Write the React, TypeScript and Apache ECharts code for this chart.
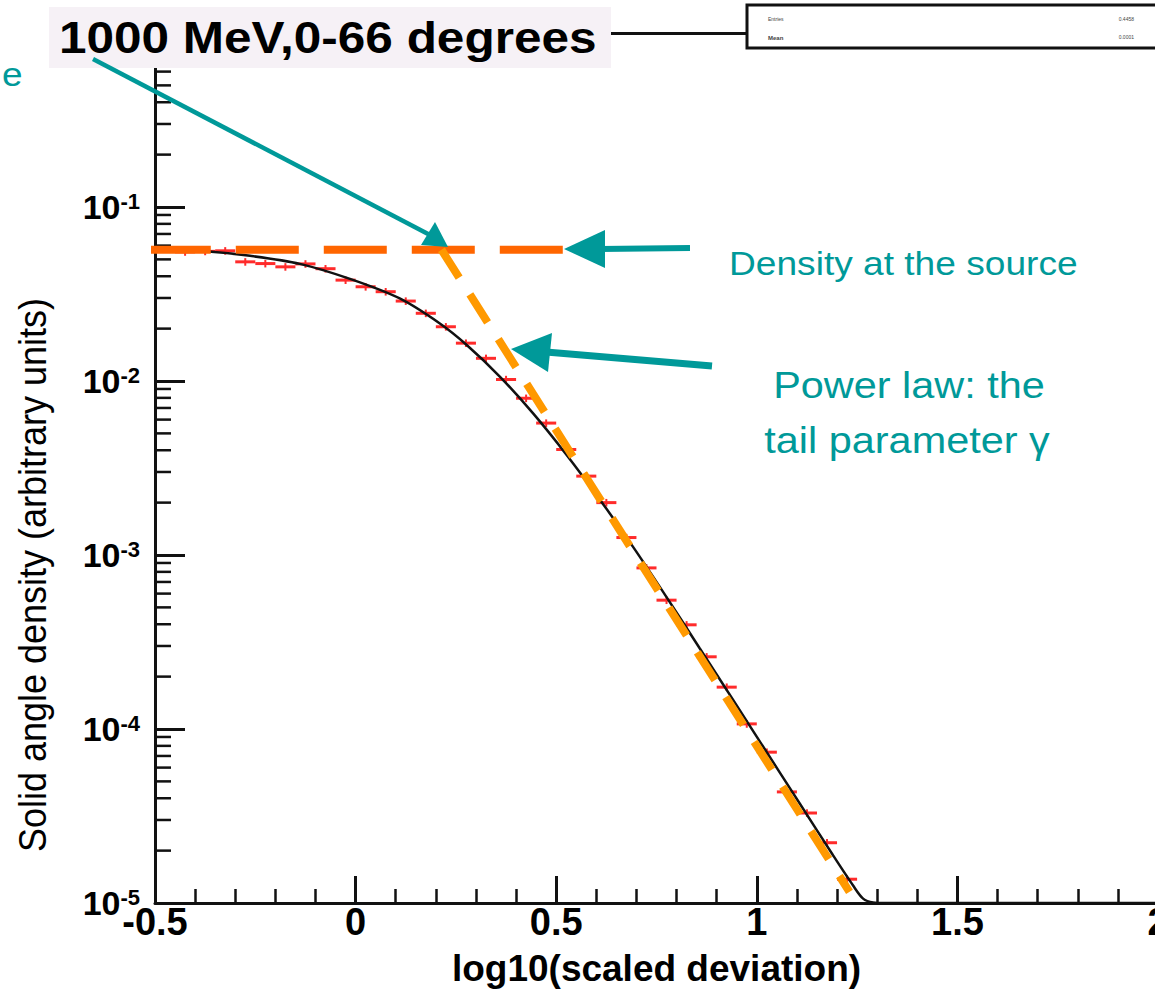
import React, { useEffect, useRef } from 'react';
import * as echarts from 'echarts';

const FONT = '"Liberation Sans", Arial, Helvetica, sans-serif';

// Binned data (log10 scaled deviation bin centres, solid-angle density)
const binCenters = [-0.425, -0.375, -0.325, -0.275, -0.225, -0.175, -0.125, -0.075, -0.025, 0.025, 0.075, 0.125, 0.175, 0.225, 0.275, 0.325, 0.375, 0.425, 0.475, 0.525, 0.575, 0.625, 0.675, 0.725, 0.775, 0.825, 0.875, 0.925, 0.975, 1.025, 1.075, 1.125, 1.175, 1.225];
const densityValues = [0.0552, 0.0556, 0.056, 0.0484, 0.0473, 0.0453, 0.0471, 0.0442, 0.038, 0.0348, 0.0326, 0.0288, 0.0245, 0.0205, 0.0165, 0.0135, 0.0102, 0.00796, 0.00573, 0.00404, 0.00284, 0.002, 0.00126, 0.000843, 0.00055, 0.000397, 0.00026, 0.000174, 0.000107, 0.0000736, 0.0000435, 0.0000329, 0.0000222, 0.0000137];
const binHalfWidth = 0.025;
const densityRelErr = 0.05;

// Fitted curve
const fitX = [-0.45, -0.36, -0.263, -0.139, -0.014, 0.11, 0.21, 0.277, 0.36, 0.443, 0.526, 0.609, 0.692, 0.775, 0.858, 0.941, 1.024, 1.107, 1.19, 1.24, 1.265, 1.29, 1.32, 2.0];
const fitY = [0.0564, 0.0553, 0.0524, 0.0471, 0.0386, 0.0298, 0.0214, 0.0161, 0.01057, 0.00649, 0.00376, 0.00208, 0.00111, 0.000573, 0.00029, 0.000147, 0.000074, 0.0000373, 0.0000188, 0.0000126, 0.0000106, 0.00001007, 0.00001, 0.00001];

// Annotation guide lines
const sourceX = [-0.518, 0.522];
const sourceY = [0.0568, 0.0568];
const powerLawX = [0.214, 1.231];
const powerLawY = [0.0568, 0.0000116];

// Axes
const xTickLabels = ['-0.5', '0', '0.5', '1', '1.5', '2'];
const yDecades = [1e-5, 1e-4, 1e-3, 1e-2, 1e-1];
const yMinorMultipliers = [2, 3, 4, 5, 6, 7, 8, 9];

const TEAL = '#009999';

export default function App() {
  const ref = useRef<HTMLDivElement>(null);

  useEffect(() => {
    if (!ref.current) return;
    const chart = echarts.init(ref.current, null, { renderer: 'svg' });

    const points = binCenters.map((x, i) => [x, densityValues[i]]);
    const fit = fitX.map((x, i) => [x, fitY[i]]);
    const minorTicks: number[][] = [];
    yDecades.forEach((d) => yMinorMultipliers.forEach((m) => minorTicks.push([-0.5, d * m])));

    const txt = (o: any) => ({ fontFamily: FONT, ...o });

    const option: any = {
      animation: false,
      backgroundColor: '#ffffff',
      textStyle: { fontFamily: FONT },
      grid: { left: 155, top: 33, width: 1003, height: 870, containLabel: false, outerBoundsMode: 'none' },
      xAxis: [
        {
          type: 'value',
          min: -0.5,
          max: 2,
          interval: 0.5,
          position: 'bottom',
          axisLine: { onZero: false, lineStyle: { color: '#111', width: 3 } },
          axisTick: { inside: true, length: 27, lineStyle: { color: '#111', width: 3 } },
          minorTick: { show: true, splitNumber: 5, length: 14, lineStyle: { color: '#111', width: 2.5 } },
          splitLine: { show: false },
          axisLabel: {
            margin: 4,
            fontSize: 38,
            lineHeight: 30,
            fontWeight: 'bold',
            color: '#000',
            fontFamily: FONT,
            formatter: (_v: number, i: number) => xTickLabels[i] ?? '',
          },
          name: 'log10(scaled deviation)',
          nameLocation: 'middle',
          nameGap: 46,
          nameTextStyle: { fontSize: 37, lineHeight: 38, fontWeight: 'bold', color: '#000', fontFamily: FONT },
        },
        {
          type: 'value',
          min: -0.5,
          max: 2,
          position: 'top',
          axisLine: { show: true, onZero: false, lineStyle: { color: '#111', width: 3 } },
          axisTick: { show: false },
          axisLabel: { show: false },
          splitLine: { show: false },
        },
      ],
      yAxis: {
        type: 'log',
        logBase: 10,
        min: 1e-5,
        max: 1,
        splitNumber: 5,
        axisLine: { onZero: false, lineStyle: { color: '#111', width: 3 } },
        axisTick: { inside: true, length: 30, lineStyle: { color: '#111', width: 3 } },
        splitLine: { show: false },
        axisLabel: {
          margin: 15,
          formatter: (v: number) => {
            if (v >= 1) return '';
            const e = Math.round(Math.log10(v));
            return `{b|10}{s|${e}}`;
          },
          rich: {
            b: { fontSize: 34, fontWeight: 'bold', color: '#000', fontFamily: FONT },
            s: { fontSize: 22, fontWeight: 'bold', color: '#000', fontFamily: FONT, verticalAlign: 'top' },
          },
        },
      },
      series: [
        {
          type: 'custom',
          name: 'minorTicks',
          silent: true,
          clip: false,
          z: 1,
          data: minorTicks,
          renderItem: (_p: any, api: any) => {
            const p = api.coord([api.value(0), api.value(1)]);
            return {
              type: 'line',
              shape: { x1: p[0], y1: p[1], x2: p[0] + 16, y2: p[1] },
              style: { stroke: '#111', lineWidth: 2.5 },
            };
          },
        },
        {
          type: 'custom',
          name: 'data',
          silent: true,
          z: 2,
          data: points,
          renderItem: (_p: any, api: any) => {
            const x = api.value(0);
            const y = api.value(1);
            const l = api.coord([x - binHalfWidth, y]);
            const r = api.coord([x + binHalfWidth, y]);
            const t = api.coord([x, y * (1 + densityRelErr)]);
            const b = api.coord([x, y * (1 - densityRelErr)]);
            return {
              type: 'group',
              children: [
                { type: 'line', shape: { x1: l[0], y1: l[1], x2: r[0], y2: r[1] }, style: { stroke: '#ff2b2b', lineWidth: 3 } },
                { type: 'line', shape: { x1: t[0], y1: t[1], x2: b[0], y2: b[1] }, style: { stroke: '#ff2b2b', lineWidth: 2 } },
              ],
            };
          },
        },
        {
          type: 'line',
          name: 'fit',
          data: fit,
          showSymbol: false,
          smooth: 0.3,
          z: 3,
          lineStyle: { color: '#111', width: 2.5 },
        },
        {
          type: 'line',
          name: 'source',
          data: sourceX.map((x, i) => [x, sourceY[i]]),
          showSymbol: false,
          clip: false,
          z: 4,
          lineStyle: { color: '#ff6600', width: 8, type: [63, 25], cap: 'butt' },
        },
        {
          type: 'line',
          name: 'powerlaw',
          data: powerLawX.map((x, i) => [x, powerLawY[i]]),
          showSymbol: false,
          clip: false,
          z: 4,
          lineStyle: { color: '#ff9900', width: 8, type: [33, 20], cap: 'butt' },
        },
      ],
      graphic: [
        { type: 'rect', z: 100, shape: { x: 49, y: 7, width: 562, height: 61 }, style: { fill: '#f6f1f6' } },
        {
          type: 'text', z: 101, x: 59, y: 37, scaleX: 1.1,
          style: txt({ text: '1000 MeV,0-66 degrees', fontSize: 45, fontWeight: 'bold', fill: '#000', align: 'left', verticalAlign: 'middle' }),
        },
        { type: 'rect', z: 100, shape: { x: 747, y: 5, width: 420, height: 43 }, style: { fill: '#fff', stroke: '#111', lineWidth: 3 } },
        { type: 'text', z: 101, x: 768, y: 19, style: txt({ text: 'Entries', fontSize: 5, fill: '#444', verticalAlign: 'middle' }) },
        { type: 'text', z: 101, x: 768, y: 38, style: txt({ text: 'Mean', fontSize: 6, fontWeight: 'bold', fill: '#444', verticalAlign: 'middle' }) },
        { type: 'text', z: 101, x: 1134, y: 19, style: txt({ text: '0.4458', fontSize: 5, fill: '#444', align: 'right', verticalAlign: 'middle' }) },
        { type: 'text', z: 101, x: 1134, y: 37, style: txt({ text: '0.0001', fontSize: 5, fill: '#444', align: 'right', verticalAlign: 'middle' }) },
        {
          type: 'text', z: 101, x: 2, y: 74, scaleX: 1.12,
          style: txt({ text: 'e', fontSize: 33, fill: TEAL, align: 'left', verticalAlign: 'middle' }),
        },
        // arrow 1
        { type: 'line', z: 102, shape: { x1: 93, y1: 59, x2: 430, y2: 235 }, style: { stroke: TEAL, lineWidth: 4.5 } },
        { type: 'polygon', z: 102, shape: { points: [[448, 247], [421, 245], [435, 222]] }, style: { fill: TEAL } },
        // arrow 2
        { type: 'line', z: 102, shape: { x1: 690, y1: 248, x2: 600, y2: 249 }, style: { stroke: TEAL, lineWidth: 6 } },
        { type: 'polygon', z: 102, shape: { points: [[564, 249], [605, 230], [605, 268]] }, style: { fill: TEAL } },
        // arrow 3
        { type: 'line', z: 102, shape: { x1: 712, y1: 366, x2: 546, y2: 352 }, style: { stroke: TEAL, lineWidth: 7 } },
        { type: 'polygon', z: 102, shape: { points: [[511, 349], [552, 333], [548, 372]] }, style: { fill: TEAL } },
        {
          type: 'text', z: 101, x: 729, y: 263, scaleX: 1.125,
          style: txt({ text: 'Density at the source', fontSize: 33, fill: TEAL, align: 'left', verticalAlign: 'middle' }),
        },
        {
          type: 'text', z: 101, x: 909, y: 385, scaleX: 1.12,
          style: txt({ text: 'Power law: the', fontSize: 37, fill: TEAL, align: 'center', verticalAlign: 'middle' }),
        },
        {
          type: 'text', z: 101, x: 907, y: 440, scaleX: 1.12,
          style: txt({ text: 'tail parameter \u03b3', fontSize: 37, fill: TEAL, align: 'center', verticalAlign: 'middle' }),
        },
        {
          type: 'text', z: 101, x: 32, y: 575, rotation: Math.PI / 2, scaleY: 1.1,
          style: txt({ text: 'Solid angle density (arbitrary units)', fontSize: 36, fill: '#000', align: 'center', verticalAlign: 'middle' }),
        },
      ],
    };

    chart.setOption(option);
    return () => chart.dispose();
  }, []);

  return (
    <div
      ref={ref}
      style={{ position: 'absolute', left: 0, top: 0, width: 1155, height: 989 }}
    />
  );
}
